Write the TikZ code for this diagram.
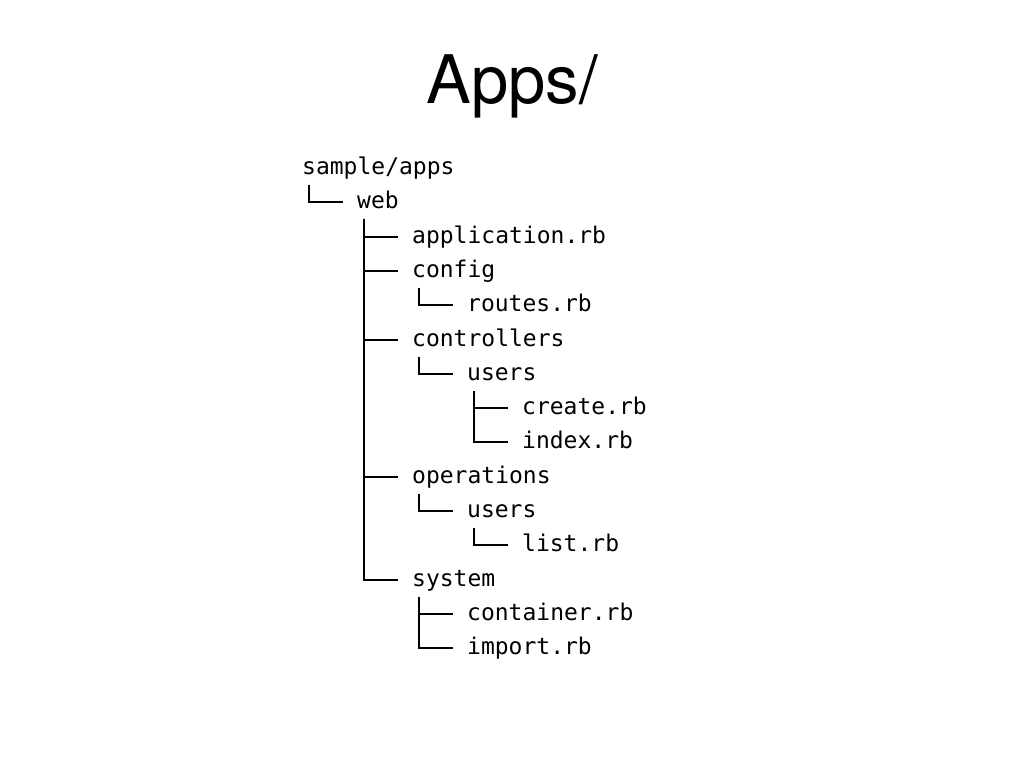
\documentclass[tikz,border=0pt]{standalone}
\usepackage{fontspec}
\setmainfont{TeX Gyre Heros}
\newfontfamily\treefont{DejaVu Sans Mono}
\begin{document}
\begin{tikzpicture}[x=1pt,y=-1pt,
  entry/.style={anchor=base west,inner sep=0pt,font=\treefont\fontsize{23}{26}\selectfont},
  branch/.style={line width=2pt,line cap=butt,line join=miter}]
\useasboundingbox (0,0) rectangle (1024,768);
\node[font=\fontsize{67}{70}\selectfont,anchor=base] (title) at (512,103) {Apps/};
% rows (baselines = line centre + 6.5)
\node[entry] (root)   at (302,174.5) {sample/apps};
\node[entry] (web)    at (357,208.5) {web};
\node[entry] (app)    at (412,243.5) {application.rb};
\node[entry] (config) at (412,277.5) {config};
\node[entry] (routes) at (467,311.5) {routes.rb};
\node[entry] (ctrl)   at (412,346.5) {controllers};
\node[entry] (cusers) at (467,380.5) {users};
\node[entry] (create) at (522,414.5) {create.rb};
\node[entry] (index)  at (522,448.5) {index.rb};
\node[entry] (ops)    at (412,483.5) {operations};
\node[entry] (ousers) at (467,517.5) {users};
\node[entry] (list)   at (522,551.5) {list.rb};
\node[entry] (system) at (412,586.5) {system};
\node[entry] (cont)   at (467,620.5) {container.rb};
\node[entry] (import) at (467,654.5) {import.rb};
% connectors
\foreach \p/\c in {root/web, web/app, web/config, config/routes, web/ctrl,
                   ctrl/cusers, cusers/create, cusers/index, web/ops,
                   ops/ousers, ousers/list, web/system, system/cont, system/import}
  \draw[branch] ([xshift=7pt,yshift=-10pt]\p.base west) |- ([xshift=-14pt,yshift=6.5pt]\c.base west);
\end{tikzpicture}
\end{document}
